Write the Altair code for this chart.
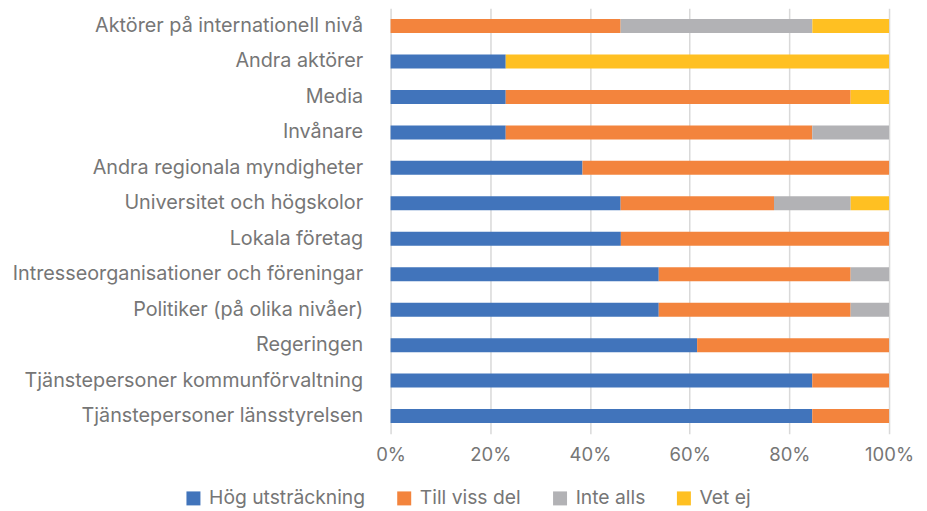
import altair as alt
import pandas as pd

categories = [
    "Aktörer på internationell nivå",
    "Andra aktörer",
    "Media",
    "Invånare",
    "Andra regionala myndigheter",
    "Universitet och högskolor",
    "Lokala företag",
    "Intresseorganisationer och föreningar",
    "Politiker (på olika nivåer)",
    "Regeringen",
    "Tjänstepersoner kommunförvaltning",
    "Tjänstepersoner länsstyrelsen",
]
series = ["Hög utsträckning", "Till viss del", "Inte alls", "Vet ej"]
colors = ["#4174BB", "#F3843D", "#B2B2B5", "#FFC022"]

hog = [0, 23.1, 23.1, 23.1, 38.5, 46.2, 46.2, 53.8, 53.8, 61.5, 84.6, 84.6]
till = [46.2, 0, 69.2, 61.5, 61.5, 30.8, 53.8, 38.5, 38.5, 38.5, 15.4, 15.4]
inte = [38.5, 0, 0, 15.4, 0, 15.4, 0, 7.7, 7.7, 0, 0, 0]
vetej = [15.4, 76.9, 7.7, 0, 0, 7.7, 0, 0, 0, 0, 0, 0]

rows = []
for s_i, (name, vals) in enumerate(zip(series, [hog, till, inte, vetej])):
    for c, v in zip(categories, vals):
        if v > 0:
            rows.append({"category": c, "series": name, "value": v, "ord": s_i})
df = pd.DataFrame(rows)

FONT = "Inter"
TXT = "#767676"

chart = alt.Chart(df).mark_bar(size=14).encode(
    x=alt.X(
        "value:Q",
        stack="normalize",
        scale=alt.Scale(domain=[0, 1], nice=False),
        axis=alt.Axis(
            format=".0%",
            values=[0, 0.2, 0.4, 0.6, 0.8, 1.0],
            title=None,
            grid=True,
            gridColor="#D9D9D9",
            gridWidth=1.5,
            domain=False,
            ticks=False,
            labelFlush=False,
            labelFontSize=18.5,
            labelColor=TXT,
            labelFont=FONT,
            labelPadding=12,
        ),
    ),
    y=alt.Y(
        "category:N",
        sort=categories,
        axis=alt.Axis(
            title=None,
            ticks=False,
            domain=False,
            labelPadding=28,
            labelFontSize=19.8,
            labelColor=TXT,
            labelFont=FONT,
            labelLimit=600,
        ),
    ),
    color=alt.Color(
        "series:N",
        scale=alt.Scale(domain=series, range=colors),
        legend=alt.Legend(
            title=None,
            orient="none",
            direction="horizontal",
            legendX=-207,
            legendY=481,
            symbolType="square",
            symbolSize=196,
            symbolStrokeWidth=0,
            columnPadding=29,
            labelFontSize=19.3,
            labelFont=FONT,
            labelColor=TXT,
            labelOffset=6,
            labelLimit=400,
        ),
    ),
    order=alt.Order("ord:Q"),
).properties(
    width=499,
    height=426,
    autosize=alt.AutoSizeParams(type="none"),
    padding={"left": 383, "top": 0, "right": 30, "bottom": 76},
).configure_view(stroke=None)

chart.save("out.html", embed_options={"renderer": "svg", "actions": False})
